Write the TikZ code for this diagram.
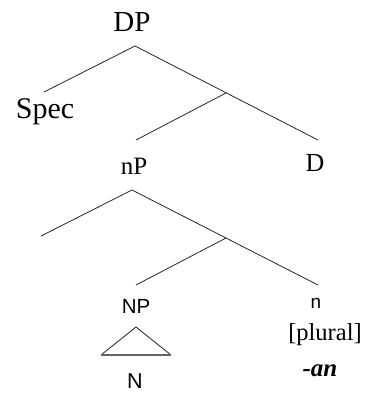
\documentclass[tikz,border=0pt]{standalone}
\usepackage{fontspec}
\setmainfont{Liberation Serif}
\newfontfamily\arialfont{Liberation Sans}
\begin{document}
\begin{tikzpicture}[x=1pt,y=-1pt,
  branch/.style={draw=black!85,line width=0.8pt},
  lbl/.style={anchor=base,inner sep=0pt,text=black},
  serifsz/.style={lbl,font=\fontsize{#1}{#1}\selectfont},
  sanssz/.style={lbl,font=\arialfont\fontsize{#1}{#1}\selectfont}]
\useasboundingbox (0,0) rectangle (365,394);
% labels
\node[serifsz=29] (DP) at (132,31) {DP};
\node[serifsz=30] (Spec) at (45,118) {Spec};
\node[serifsz=25] (nP) at (134,174) {nP};
\node[serifsz=26] (D) at (315,171) {D};
\node[sanssz=20.5] (NP) at (136,313) {NP};
\node[sanssz=19] (n) at (316,308) {n};
\node[serifsz=24.5] (plural) at (325,340) {[plural]};
\node[serifsz=25] (an) at (320,376) {\textbf{\textit{-an}}};
\node[sanssz=21.5] (N) at (135,388) {N};
% tree points
\coordinate (dpTop) at (135,46);
\coordinate (specEnd) at (44,92);
\coordinate (dEnd) at (318,140);
\coordinate (dbar) at (226,93);
\coordinate (npEnd) at (136,140);
\coordinate (nPTop) at (132,190);
\coordinate (leftEnd) at (41,236);
\coordinate (nEnd) at (318,285);
\coordinate (nbar) at (226,238);
\coordinate (NPEnd) at (136,285);
\coordinate (triTop) at (136,327);
\coordinate (triL) at (101,355);
\coordinate (triR) at (171,355);
% branches
\draw[branch] (specEnd) -- (dpTop) -- (dEnd);
\draw[branch] (dbar) -- (npEnd);
\draw[branch] (leftEnd) -- (nPTop) -- (nEnd);
\draw[branch] (nbar) -- (NPEnd);
% triangle
\draw[branch] (triL) -- (triTop) -- (triR);
\draw[draw=black!60,line width=1.8pt] (triL) -- (triR);
\end{tikzpicture}
\end{document}
